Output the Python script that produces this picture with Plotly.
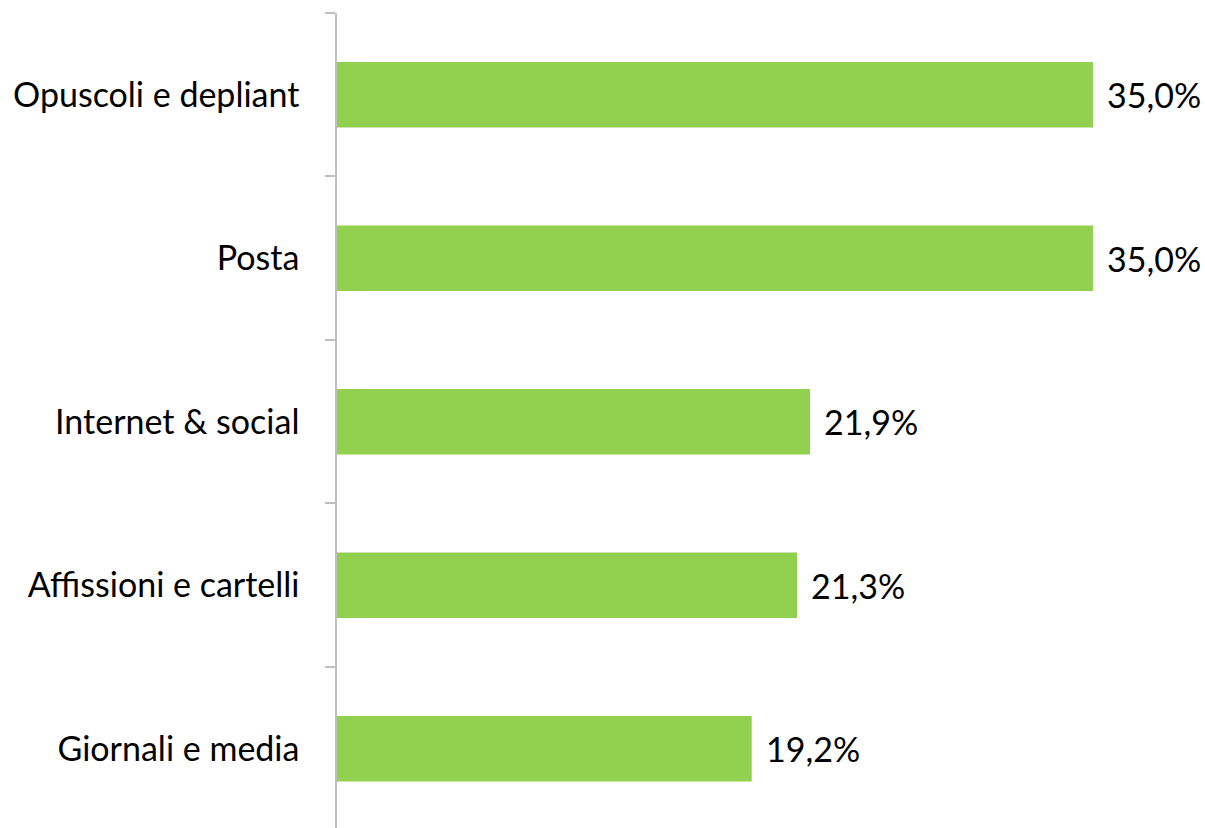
import plotly.graph_objects as go

# Canali di comunicazione (quota percentuale)
categories = ["Opuscoli e depliant", "Posta", "Internet & social",
              "Affissioni e cartelli", "Giornali e media"]
values = [35.0, 35.0, 21.9, 21.3, 19.2]

BAR_COLOR = "#92D050"
AXIS_COLOR = "#BFBFBF"
FONT = "Lato"
FONT_SIZE = 34


def fmt(v):
    return f"{v:.1f}%".replace(".", ",")


fig = go.Figure(
    go.Bar(
        x=values,
        y=categories,
        orientation="h",
        marker=dict(color=BAR_COLOR, line=dict(width=0)),
        hoverinfo="skip",
    )
)

for cat, v in zip(categories, values):
    fig.add_annotation(
        x=v, y=cat, text=fmt(v), showarrow=False,
        xanchor="left", yanchor="middle", xshift=12,
        font=dict(family=FONT, size=FONT_SIZE, color="#000000"),
    )

fig.update_layout(
    width=1205, height=828,
    margin=dict(l=337, r=0, t=13, b=0),
    paper_bgcolor="white", plot_bgcolor="white",
    bargap=0.6,
    showlegend=False,
    font=dict(family=FONT, size=FONT_SIZE, color="#000000"),
)
fig.update_xaxes(
    range=[0, 868 / 21.6], visible=False, fixedrange=True,
)
# the last category band runs slightly past the bottom edge of the page
fig.update_yaxes(
    range=[4.485, -0.5],
    showline=True, linecolor=AXIS_COLOR, linewidth=1.5,
    ticks="outside", tickson="boundaries", ticklen=10,
    tickcolor=AXIS_COLOR, tickwidth=1.5,
    ticklabelstandoff=29,
    showgrid=False, zeroline=False,
    tickfont=dict(family=FONT, size=FONT_SIZE, color="#000000"),
)

fig.write_html("out.html")
